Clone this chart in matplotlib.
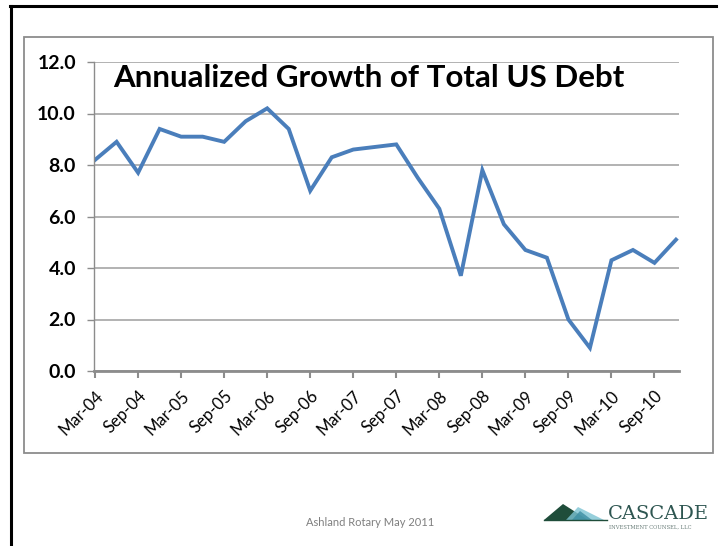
import numpy as np
import matplotlib.pyplot as plt
import matplotlib.transforms as mtransforms
from matplotlib.patches import Rectangle, Polygon
from matplotlib.lines import Line2D

plt.rcParams['font.family'] = ['Lato', 'DejaVu Sans']

# quarterly growth rate of total US debt, %
quarters = ['Mar-04', 'Jun-04', 'Sep-04', 'Dec-04', 'Mar-05', 'Jun-05', 'Sep-05',
            'Dec-05', 'Mar-06', 'Jun-06', 'Sep-06', 'Dec-06', 'Mar-07', 'Jun-07',
            'Sep-07', 'Dec-07', 'Mar-08', 'Jun-08', 'Sep-08', 'Dec-08', 'Mar-09',
            'Jun-09', 'Sep-09', 'Dec-09', 'Mar-10', 'Jun-10', 'Sep-10', 'Dec-10']
growth = [8.2, 8.9, 7.7, 9.4, 9.1, 9.1, 8.9,
          9.7, 10.2, 9.4, 7.0, 8.3, 8.6, 8.7,
          8.8, 7.5, 6.3, 3.7, 7.8, 5.7, 4.7,
          4.4, 2.0, 0.9, 4.3, 4.7, 4.2, 5.1]
y_ticks = [0, 2, 4, 6, 8, 10, 12]

W, H = 720, 546


def fx(px):
    return px / W


def fy(py):
    return 1 - py / H


fig = plt.figure(figsize=(W / 100, H / 100), dpi=100)
fig.patch.set_facecolor('white')

# slide frame (top and left edges)
fig.add_artist(Line2D([fx(10), fx(716)], [fy(6), fy(6)], color='black', lw=2.2))
fig.add_artist(Line2D([fx(11), fx(11)], [fy(6), fy(546)], color='black', lw=2.2))

# chart border
fig.add_artist(Rectangle((fx(24), fy(453)), fx(713) - fx(24), fy(37) - fy(453),
                         transform=fig.transFigure, fill=False,
                         edgecolor='#8c8c8c', lw=1.3))

ax = fig.add_axes([fx(94), fy(371), fx(679) - fx(94), fy(62) - fy(371)])
x = np.arange(len(quarters))
ax.plot(x, growth, color='#4a7ebb', lw=2.8, solid_joinstyle='miter')

ax.set_ylim(0, 12)
ax.set_xlim(-0.05, 27.14)
ax.set_yticks(y_ticks)
ax.set_yticklabels([f'{v:.1f}' for v in y_ticks], fontsize=14, fontweight='bold')
ax.yaxis.grid(True, color='#a6a6a6', lw=1.2)
ax.set_axisbelow(True)

ax.set_xticks(x[::2])
ax.set_xticklabels(quarters[::2], fontsize=12, rotation=45,
                   ha='right', va='top', rotation_mode='anchor')
shift = mtransforms.ScaledTranslation(7 / 100, 0, fig.dpi_scale_trans)
for lbl in ax.get_xticklabels():
    lbl.set_transform(lbl.get_transform() + shift)

for sp in ['top', 'right']:
    ax.spines[sp].set_visible(False)
ax.spines['left'].set_color('#8c8c8c')
ax.spines['left'].set_linewidth(1.0)
ax.spines['bottom'].set_color('#8c8c8c')
ax.spines['bottom'].set_linewidth(2.0)
ax.tick_params(axis='y', length=5, width=1.0, color='#8c8c8c', pad=8)
ax.tick_params(axis='x', length=5, width=1.5, color='#8c8c8c', pad=7)

ax.text(0.032, 0.995, 'Annualized Growth of Total US Debt', transform=ax.transAxes,
        fontsize=22.5, fontweight='bold', ha='left', va='top')

# footer
fig.text(fx(370), fy(523), 'Ashland Rotary May 2011', fontsize=8,
         color='#7f7f7f', ha='center', va='center')

# company logo
fig.add_artist(Polygon([(fx(544), fy(520)), (fx(563), fy(504)), (fx(588), fy(520))],
                       closed=True, transform=fig.transFigure,
                       facecolor='#1f4d3a', edgecolor='none'))
fig.add_artist(Polygon([(fx(566), fy(520)), (fx(578), fy(507)), (fx(604), fy(520))],
                       closed=True, transform=fig.transFigure,
                       facecolor='#7cc3d3', edgecolor='none', alpha=0.8))
fig.add_artist(Polygon([(fx(572), fy(520)), (fx(580), fy(511)), (fx(592), fy(520))],
                       closed=True, transform=fig.transFigure,
                       facecolor='#3d8fa3', edgecolor='none', alpha=0.8))
fig.add_artist(Line2D([fx(544), fx(607)], [fy(520), fy(520)],
                      color='#1f4d3a', lw=1.0))
fig.text(fx(608), fy(514), 'CASCADE', fontsize=14, family='DejaVu Serif',
         color='#2e5651', ha='left', va='center')
fig.text(fx(609), fy(527), 'INVESTMENT COUNSEL, LLC', fontsize=3.8,
         family='DejaVu Serif', color='#6b7f7a', ha='left', va='center')

fig.savefig('out.png', dpi=100)
